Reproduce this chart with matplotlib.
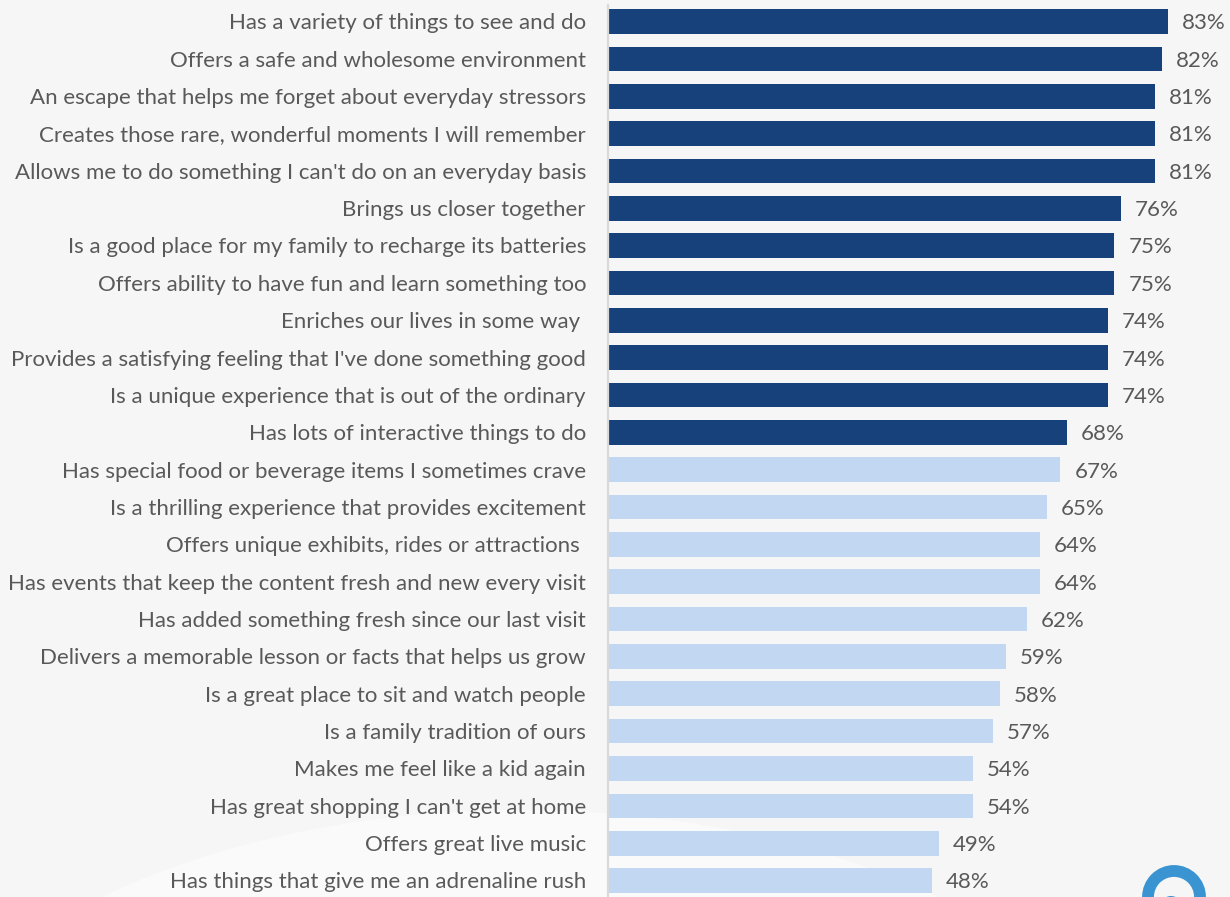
import matplotlib.pyplot as plt
from matplotlib.patches import Circle, Ellipse

categories = [
    "Has a variety of things to see and do",
    "Offers a safe and wholesome environment",
    "An escape that helps me forget about everyday stressors",
    "Creates those rare, wonderful moments I will remember",
    "Allows me to do something I can't do on an everyday basis",
    "Brings us closer together",
    "Is a good place for my family to recharge its batteries",
    "Offers ability to have fun and learn something too",
    "Enriches our lives in some way ",
    "Provides a satisfying feeling that I've done something good",
    "Is a unique experience that is out of the ordinary",
    "Has lots of interactive things to do",
    "Has special food or beverage items I sometimes crave",
    "Is a thrilling experience that provides excitement",
    "Offers unique exhibits, rides or attractions ",
    "Has events that keep the content fresh and new every visit",
    "Has added something fresh since our last visit",
    "Delivers a memorable lesson or facts that helps us grow",
    "Is a great place to sit and watch people",
    "Is a family tradition of ours",
    "Makes me feel like a kid again",
    "Has great shopping I can't get at home",
    "Offers great live music",
    "Has things that give me an adrenaline rush",
]
values = [83, 82, 81, 81, 81, 76, 75, 75, 74, 74, 74, 68,
          67, 65, 64, 64, 62, 59, 58, 57, 54, 54, 49, 48]
top_group_size = 12

DARK = "#17417b"
LIGHT = "#c2d7f2"
TEXT = "#595959"
BG = "#f6f6f6"

W, H = 1230, 897
fig = plt.figure(figsize=(W / 100, H / 100), dpi=100, facecolor=BG)

# faint background swoosh
bg_ax = fig.add_axes([0, 0, 1, 1])
bg_ax.set_xlim(0, W)
bg_ax.set_ylim(H, 0)
bg_ax.axis("off")
bg_ax.add_patch(Ellipse((520, 1180), 1300, 740, facecolor="#fafafa",
                        edgecolor="none", zorder=0))

x0_px = 608
px_per_unit = 6.75
first_center = 21.5
pitch = 37.35

left = x0_px / W
ax = fig.add_axes([left, 0, 1 - left, 1])
ax.set_facecolor("none")
ax.set_xlim(0, (W - x0_px) / px_per_unit)
ax.set_ylim((H - first_center) / pitch, -first_center / pitch)

colors = [DARK if i < top_group_size else LIGHT for i in range(len(values))]
ypos = list(range(len(values)))
ax.barh(ypos, values, height=0.66, color=colors, edgecolor="none", zorder=2)

font = "Lato"
fs = 16
dy = 0.05  # nudge text slightly below the bar centre
for y, v, name in zip(ypos, values, categories):
    ax.text(v + 14 / px_per_unit, y + dy, f"{v}%", va="center", ha="left",
            color=TEXT, fontsize=fs, family=font)
    ax.text(-22 / px_per_unit, y + dy, name, va="center", ha="right",
            color=TEXT, fontsize=fs, family=font, clip_on=False)

for s in ["top", "right", "bottom"]:
    ax.spines[s].set_visible(False)
ax.spines["left"].set_color("#d9d9d9")
ax.spines["left"].set_linewidth(1.6)
ax.spines["left"].set_bounds(-0.45, (H - first_center) / pitch)
ax.set_xticks([])
ax.set_yticks([])

# brand mark in the lower right corner
bg_ax.add_patch(Circle((1174, 897), 26, facecolor="none",
                       edgecolor="#3a94d1", linewidth=8.5, zorder=5))
bg_ax.add_patch(Circle((1171, 907), 11, facecolor="#3a94d1",
                       edgecolor="none", zorder=5))
bg_ax.set_zorder(0)
ax.set_zorder(1)

fig.savefig("out.png", dpi=100, facecolor=BG)
